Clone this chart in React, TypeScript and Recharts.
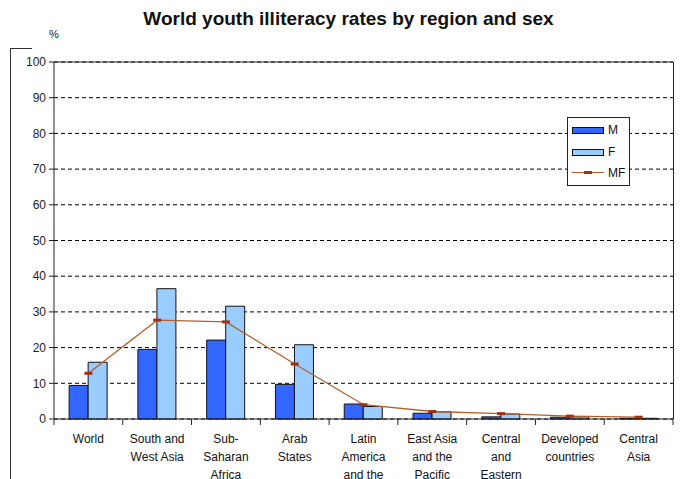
import React from "react";
import { ComposedChart, Bar, Line, XAxis, YAxis, CartesianGrid, ReferenceLine } from "recharts";

const categories = [
  "World",
  "South and West Asia",
  "Sub-Saharan Africa",
  "Arab States",
  "Latin America and the Caribbean",
  "East Asia and the Pacific",
  "Central and Eastern Europe",
  "Developed countries",
  "Central Asia",
];
const tickLines = [
  ["World"],
  ["South and", "West Asia"],
  ["Sub-", "Saharan", "Africa"],
  ["Arab", "States"],
  ["Latin", "America", "and the", "Caribbean"],
  ["East Asia", "and the", "Pacific"],
  ["Central", "and", "Eastern", "Europe"],
  ["Developed", "countries"],
  ["Central", "Asia"],
];
const maleValues = [9.4, 19.5, 22.1, 9.7, 4.2, 1.6, 0.6, 0.5, 0.2];
const femaleValues = [15.9, 36.5, 31.6, 20.8, 3.5, 2.0, 1.4, 0.6, 0.2];
const totalValues = [12.8, 27.7, 27.2, 15.4, 4.0, 2.1, 1.5, 0.8, 0.5];
const yTicks = [0, 10, 20, 30, 40, 50, 60, 70, 80, 90, 100];

const data = categories.map((c, i) => ({
  name: c,
  idx: i,
  M: maleValues[i],
  F: femaleValues[i],
  MF: totalValues[i],
}));

const FONT = "'Liberation Sans', Arial, sans-serif";
const PLOT_LEFT = 54;
const PLOT_RIGHT = 673;
const PLOT_TOP = 62;
const PLOT_BOTTOM = 419;
const BAND = (PLOT_RIGHT - PLOT_LEFT) / categories.length;

const XTick = (props: any) => {
  const { x, y, payload } = props;
  const lines = tickLines[payload.index] || [String(payload.value)];
  return (
    <g>
      <line x1={x + BAND / 2} x2={x + BAND / 2} y1={y - 8} y2={y - 2} stroke="#222" strokeWidth={1} />
      {payload.index === 0 && (
        <line x1={x - BAND / 2} x2={x - BAND / 2} y1={y - 8} y2={y - 2} stroke="#222" strokeWidth={1} />
      )}
      {lines.map((l: string, i: number) => (
        <text key={i} x={x} y={y + 15.5 + i * 18} textAnchor="middle" fontSize={12} fill="#111" fontFamily={FONT}>
          {l}
        </text>
      ))}
    </g>
  );
};

const MFDot = (props: any) => {
  const { cx, cy } = props;
  if (cx == null || cy == null) return null;
  return <rect x={cx - 4} y={cy - 1.5} width={8} height={3} fill="#a33210" />;
};

export default function App() {
  return (
    <div style={{ position: "absolute", left: 0, top: 0, width: 688, height: 479, background: "#fff", overflow: "hidden", fontFamily: FONT }}>
      <div style={{ position: "absolute", left: 0, top: 8, width: 697, textAlign: "center", fontSize: 19, fontWeight: "bold", color: "#111" }}>
        World youth illiteracy rates by region and sex
      </div>
      <div style={{ position: "absolute", left: 49, top: 28, fontSize: 11, color: "#222" }}>%</div>
      <div style={{ position: "absolute", left: 10, top: 48, width: 1, height: 440, background: "#333" }} />
      <div style={{ position: "absolute", left: 10, top: 48, width: 22, height: 1, background: "#333" }} />
      <ComposedChart
        width={688}
        height={479}
        data={data}
        margin={{ top: PLOT_TOP, right: 688 - PLOT_RIGHT, bottom: 0, left: 0 }}
        barGap={0}
        barCategoryGap="22%"
      >
        <CartesianGrid vertical={false} stroke="#000" strokeDasharray="4 3" />
        <XAxis
          dataKey="name"
          height={479 - PLOT_BOTTOM}
          interval={0}
          tickLine={false}
          axisLine={{ stroke: "#222" }}
          tick={<XTick />}
        />
        <YAxis
          width={PLOT_LEFT}
          domain={[0, 100]}
          ticks={yTicks}
          interval={0}
          tickSize={5}
          tickMargin={3}
          axisLine={{ stroke: "#222" }}
          tickLine={{ stroke: "#222" }}
          tick={{ fontSize: 12, fill: "#222", fontFamily: FONT }}
        />
        <ReferenceLine y={100} stroke="#222" />
        <Bar dataKey="M" fill="#3366ff" stroke="#111" strokeWidth={1} isAnimationActive={false} />
        <Bar dataKey="F" fill="#99ccff" stroke="#111" strokeWidth={1} isAnimationActive={false} />
        <Line
          dataKey="MF"
          type="linear"
          stroke="#b5602c"
          strokeWidth={1.3}
          dot={<MFDot />}
          activeDot={false}
          isAnimationActive={false}
        />
      </ComposedChart>
      <div style={{ position: "absolute", left: PLOT_RIGHT, top: PLOT_TOP, width: 1, height: PLOT_BOTTOM - PLOT_TOP, background: "#222" }} />
      <div style={{ position: "absolute", left: 567, top: 117, width: 61, height: 67, border: "1px solid #222", background: "#fff" }}>
        <div style={{ position: "absolute", left: 4, top: 9, width: 30, height: 5, background: "#3366ff", border: "1px solid #111" }} />
        <div style={{ position: "absolute", left: 40, top: 5, fontSize: 12, color: "#111" }}>M</div>
        <div style={{ position: "absolute", left: 4, top: 31, width: 30, height: 5, background: "#99ccff", border: "1px solid #111" }} />
        <div style={{ position: "absolute", left: 40, top: 27, fontSize: 12, color: "#111" }}>F</div>
        <div style={{ position: "absolute", left: 4, top: 54, width: 32, height: 1, background: "#b5602c" }} />
        <div style={{ position: "absolute", left: 16, top: 53, width: 8, height: 3, background: "#a33210" }} />
        <div style={{ position: "absolute", left: 40, top: 48, fontSize: 12, color: "#111" }}>MF</div>
      </div>
    </div>
  );
}
